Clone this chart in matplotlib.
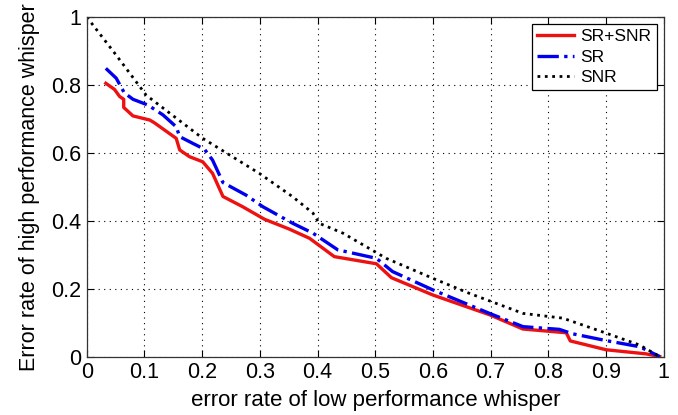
import matplotlib
matplotlib.use("Agg")
import matplotlib.pyplot as plt
from matplotlib.ticker import FixedLocator, FixedFormatter

plt.rcParams['font.family'] = ['Liberation Sans', 'DejaVu Sans']

# SR+SNR (red solid)
x_srsnr = [0.033, 0.048, 0.057, 0.064, 0.064, 0.080, 0.109, 0.117, 0.155, 0.161, 0.178,
           0.201, 0.218, 0.236, 0.270, 0.308, 0.351, 0.386, 0.429, 0.502, 0.528, 0.600,
           0.698, 0.756, 0.831, 0.838, 0.900, 0.969, 0.993]
y_srsnr = [0.805, 0.787, 0.766, 0.758, 0.734, 0.709, 0.697, 0.689, 0.643, 0.609, 0.589,
           0.574, 0.540, 0.472, 0.442, 0.405, 0.376, 0.349, 0.295, 0.274, 0.233, 0.182,
           0.124, 0.082, 0.071, 0.047, 0.021, 0.009, 0.001]

# SR (blue dash-dot)
x_sr = [0.033, 0.051, 0.065, 0.080, 0.106, 0.132, 0.155, 0.161, 0.184, 0.204, 0.218,
        0.236, 0.276, 0.305, 0.357, 0.392, 0.435, 0.502, 0.530, 0.600, 0.698, 0.756,
        0.819, 0.842, 0.900, 0.958, 0.993]
y_sr = [0.849, 0.820, 0.777, 0.758, 0.741, 0.712, 0.677, 0.648, 0.628, 0.611, 0.579,
        0.513, 0.476, 0.442, 0.393, 0.364, 0.315, 0.290, 0.251, 0.197, 0.128, 0.089,
        0.081, 0.068, 0.048, 0.030, 0.001]

# SNR (black dotted)
x_snr = [0.0, 0.05, 0.103, 0.201, 0.299, 0.357, 0.392, 0.403, 0.444, 0.519, 0.600,
         0.663, 0.756, 0.825, 0.900, 0.958, 0.993]
y_snr = [1.0, 0.89, 0.77, 0.643, 0.540, 0.471, 0.423, 0.393, 0.364, 0.290, 0.231,
         0.187, 0.128, 0.114, 0.070, 0.035, 0.001]

xticks = [0, 0.1, 0.2, 0.3, 0.4, 0.5, 0.6, 0.7, 0.8, 0.9, 1]
xticklabels = ['0', '0.1', '0.2', '0.3', '0.4', '0.5', '0.6', '0.7', '0.8', '0.9', '1']
yticks = [0, 0.2, 0.4, 0.6, 0.8, 1]
yticklabels = ['0', '0.2', '0.4', '0.6', '0.8', '1']

fig = plt.figure(figsize=(6.78, 4.15), dpi=100)
ax = fig.add_axes([0.128, 0.140, 0.851, 0.819])

ax.plot(x_srsnr, y_srsnr, color='#ee1111', lw=2.4, ls='-', label='SR+SNR')
ax.plot(x_sr, y_sr, color='#0000ee', lw=2.4, ls='-.', label='SR')
ax.plot(x_snr, y_snr, color='black', lw=2.0, ls=':', label='SNR')

ax.set_xlim(0, 1)
ax.set_ylim(0, 1)
ax.xaxis.set_major_locator(FixedLocator(xticks))
ax.xaxis.set_major_formatter(FixedFormatter(xticklabels))
ax.yaxis.set_major_locator(FixedLocator(yticks))
ax.yaxis.set_major_formatter(FixedFormatter(yticklabels))
ax.tick_params(direction='in', top=True, right=True, labelsize=15.5, length=5, width=0.8, pad=4)
ax.grid(True, color='black', ls=(0, (1, 4)), lw=0.8)
for s in ax.spines.values():
    s.set_linewidth(0.9)
    s.set_color('#333333')

ax.set_xlabel('error rate of low performance whisper', fontsize=16, labelpad=5)
ax.set_ylabel('Error rate of high performance whisper', fontsize=15.5, labelpad=8)

leg = ax.legend(loc='upper right', fontsize=12.5, frameon=True, fancybox=False,
                edgecolor='black', framealpha=1, handlelength=2.1, handletextpad=0.4,
                borderpad=0.3, labelspacing=0.3, borderaxespad=0.4)
leg.get_frame().set_linewidth(0.9)

fig.savefig('out.png', dpi=100)
